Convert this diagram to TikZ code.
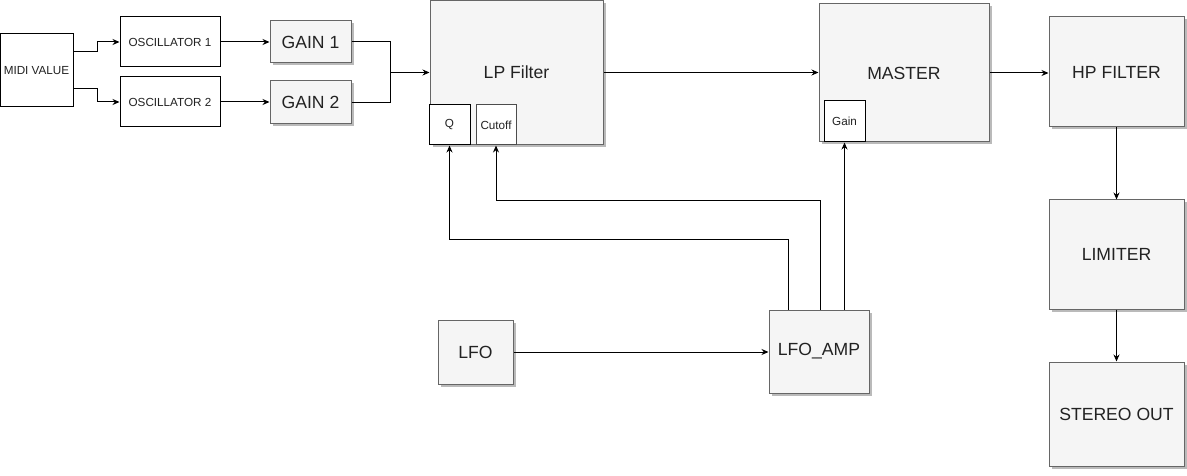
\documentclass[tikz,border=0pt]{standalone}
\usepackage{fontspec}
\setmainfont{Liberation Sans}
\usetikzlibrary{arrows.meta,shadows,calc}
\definecolor{boxfill}{HTML}{F5F5F5}
\definecolor{boxline}{HTML}{666666}
\definecolor{txt}{HTML}{222222}
\tikzset{
  small/.style={font=\fontsize{11.7}{14}\selectfont, text=txt},
  big/.style={font=\fontsize{17.6}{21}\selectfont, text=txt},
  plainbox/.style={draw=black, fill=white, line width=1pt, inner sep=0pt, small},
  graybox/.style={draw=boxline, fill=boxfill, line width=1pt, inner sep=0pt, big,
    drop shadow={shadow xshift=2.5pt, shadow yshift=-2.5pt, fill=black!45, opacity=0.6}},
  portbox/.style={fill=white, line width=1pt, inner sep=0pt, small},
  conn/.style={line width=1pt, draw=black},
  arr/.style={conn, -{Stealth[length=7pt,width=6pt]}},
}
\begin{document}
\begin{tikzpicture}[x=1pt,y=-1pt]
\useasboundingbox (0,0) rectangle (1187,476);
% left chain
\node[plainbox, minimum width=73pt, minimum height=73pt] (midi) at (36.5,70.5) {MIDI VALUE};
\node[plainbox, minimum width=100pt, minimum height=50pt] (osc1) at (170,42) {OSCILLATOR 1};
\node[plainbox, minimum width=100pt, minimum height=50pt] (osc2) at (170,102) {OSCILLATOR 2};
\node[graybox, minimum width=81pt, minimum height=42pt] (gain1) at (310.5,42) {GAIN 1};
\node[graybox, minimum width=81pt, minimum height=43pt] (gain2) at (310.5,102.5) {GAIN 2};
% filter and master
\node[graybox, minimum width=173pt, minimum height=144pt] (lp) at (516.5,72.5) {LP Filter};
\node[portbox, draw=black, minimum width=41pt, minimum height=40pt] (q) at (449.5,125) {Q};
\node[portbox, draw=black!70, minimum width=40pt, minimum height=40pt] (cutoff) at (496,125) {Cutoff};
\node[graybox, minimum width=170pt, minimum height=138pt] (master) at (904,73) {MASTER};
\node[portbox, draw=black, minimum width=41pt, minimum height=41pt] (mgain) at (844.5,121.5) {Gain};
% output chain
\node[graybox, minimum width=135pt, minimum height=110pt] (hp) at (1116.5,72) {HP FILTER};
\node[graybox, minimum width=135pt, minimum height=109pt] (limiter) at (1116.5,254.5) {LIMITER};
\node[graybox, minimum width=135pt, minimum height=104pt] (stereo) at (1116.5,414) {STEREO OUT};
% lfo
\node[graybox, minimum width=75pt, minimum height=64pt] (lfo) at (475.5,352) {LFO};
\node[graybox, minimum width=100pt, minimum height=83pt] (lfoamp) at (819,351.5) {LFO\_AMP};
% connectors
\draw[arr] ($(midi.north east)!0.25!(midi.south east)$) -- ++(24,0) |- (osc1.west);
\draw[arr] ($(midi.north east)!0.75!(midi.south east)$) -- ++(24,0) |- (osc2.west);
\draw[arr] (osc1.east) -- (gain1.west);
\draw[arr] (osc2.east) -- (gain2.west |- osc2.east);
\coordinate (join) at (390,72.5);
\draw[conn] (gain1.east) -| (join);
\draw[conn] (gain2.east) -| (join);
\draw[arr] (join) -- (lp.west);
\draw[arr] (lp.east) -- (lp.east -| master.west);
\draw[arr] (master.east) -- (master.east -| hp.west);
\draw[arr] (hp.south) -- (limiter.north);
\draw[arr] (limiter.south) -- (stereo.north);
\draw[arr] (lfo.east) -- (lfo.east -| lfoamp.west);
\coordinate (p1) at ($(lfoamp.north west)!0.2!(lfoamp.north east)$);
\coordinate (p2) at ($(lfoamp.north west)!0.51!(lfoamp.north east)$);
\coordinate (p3) at (lfoamp.north -| mgain.south);
\draw[arr] (p1) -- ++(0,-70) -| (q.south);
\draw[arr] (p2) -- ++(0,-109) -| (cutoff.south);
\draw[arr] (p3) -- (mgain.south);
\end{tikzpicture}
\end{document}
